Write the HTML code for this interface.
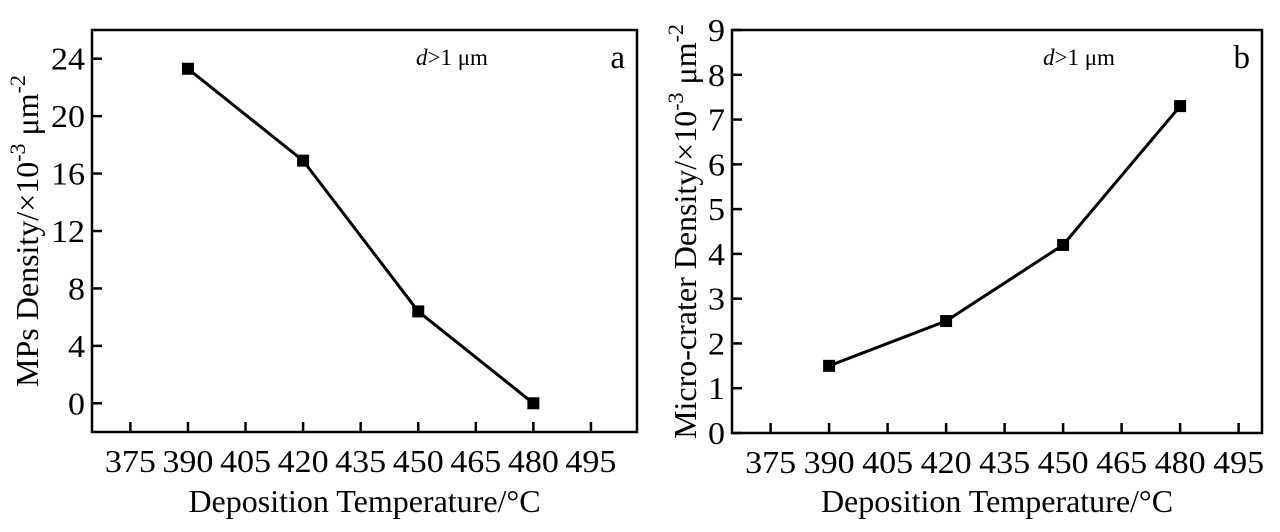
<!DOCTYPE html>
<html><head><meta charset="utf-8"><style>
body{margin:0;background:#fff;width:1280px;height:527px;overflow:hidden}
svg{font-family:"Liberation Serif",serif;}
</style></head><body>
<svg id="c" width="1280" height="527"></svg>
<script>
const xCats=[390,420,450,480];
const seriesA=[23.3,16.9,6.4,0];
const seriesB=[1.5,2.5,4.2,7.3];
const xTicks=[375,390,405,420,435,450,465,480,495];
const yTicksA=[0,4,8,12,16,20,24];
const yTicksB=[0,1,2,3,4,5,6,7,8,9];
const NS="http://www.w3.org/2000/svg";
const svg=document.getElementById('c');
function mk(t,a,p){const e=document.createElementNS(NS,t);for(const k in a)e.setAttribute(k,a[k]);(p||svg).appendChild(e);return e;}
function panel(cfg){
  const g=mk('g',{});
  
  
  const {L,R,T,B,x0,x1,y0,y1}=cfg;
  const sx=v=>L+(v-x0)/(x1-x0)*(R-L);
  const sy=v=>B-(v-y0)/(y1-y0)*(B-T);
  const f=mk('rect',{x:L,y:T,width:R-L,height:B-T,fill:'none',stroke:'#000','stroke-width':2.5},g);
  
  
  xTicks.forEach(v=>{
    const l=mk('line',{x1:sx(v),x2:sx(v),y1:B,y2:B-10,stroke:'#000','stroke-width':2.5},g);
    
    
    const t=mk('text',{x:sx(v),y:B+40,'font-size':32,'text-anchor':'middle',textLength:51,lengthAdjust:'spacingAndGlyphs'},g);
    t.textContent=v;
    
    
  });
  cfg.yTicks.forEach(v=>{
    const l=mk('line',{x1:L,x2:L+10,y1:sy(v),y2:sy(v),stroke:'#000','stroke-width':2.5},g);
    
    
    const s=String(v);
    const t=mk('text',{x:L-7,y:sy(v)+11,'font-size':32,'text-anchor':'end',textLength:s.length*17,lengthAdjust:'spacingAndGlyphs'},g);
    t.textContent=s;
    
    
  });
  const pts=xCats.map((x,i)=>sx(x)+','+sy(cfg.data[i])).join(' ');
  const pl=mk('polyline',{points:pts,fill:'none',stroke:'#000','stroke-width':3},g);
  
  
  xCats.forEach((x,i)=>{
    const r=mk('rect',{x:sx(x)-6,y:sy(cfg.data[i])-6,width:12,height:12,fill:'#000'},g);
    
    
  });
  const n=mk('text',{x:cfg.noteX,y:T+35,'font-size':23},g);
  n.innerHTML='<tspan font-style="italic">d</tspan>&gt;1 μm';
  
  
  const lb=mk('text',{x:R-12,y:T+38,'font-size':33,'text-anchor':'end'},g);
  lb.textContent=cfg.letter;
  
  
  const xt=mk('text',{x:(L+R)/2,y:512,'font-size':32,'text-anchor':'middle'},g);
  xt.textContent='Deposition Temperature/°C';
  
  
  const yt=mk('text',{x:0,y:0,'font-size':32,'text-anchor':'middle',transform:`translate(${cfg.ytX},${(T+B)/2}) rotate(-90)`},g);
  yt.innerHTML=cfg.ytitle;
  
  
}
panel({name:'panel-a',L:92,R:637,T:30,B:432,x0:365,x1:507,y0:-2,y1:26,yTicks:yTicksA,data:seriesA,noteX:416,letter:'a',ytX:38,
 ytitle:'MPs Density/×10<tspan dy="-13" font-size="22">-3</tspan><tspan dy="13"> μm</tspan><tspan dy="-13" font-size="22">-2</tspan>'});
panel({name:'panel-b',L:732,R:1262,T:30,B:433,x0:365.1,x1:501,y0:0,y1:9,yTicks:yTicksB,data:seriesB,noteX:1043,letter:'b',ytX:696,
 ytitle:'Micro-crater Density/×10<tspan dy="-13" font-size="22">-3</tspan><tspan dy="13"> μm</tspan><tspan dy="-13" font-size="22">-2</tspan>'});
</script>
</body></html>
